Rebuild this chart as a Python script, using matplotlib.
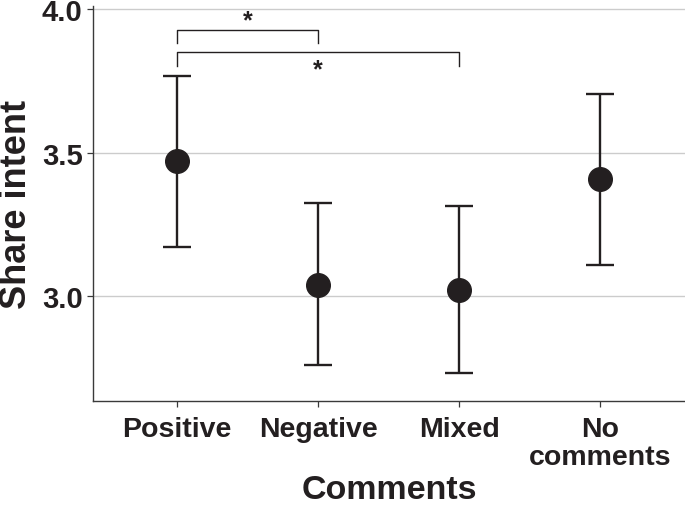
import matplotlib
matplotlib.use("Agg")
import matplotlib.pyplot as plt

plt.rcParams["font.family"] = ["Liberation Sans", "DejaVu Sans"]
plt.rcParams["font.weight"] = "bold"

# values
categories = ["Positive", "Negative", "Mixed", "No\ncomments"]
means = [3.470, 3.040, 3.023, 3.407]
upper = [3.769, 3.325, 3.316, 3.705]
lower = [3.171, 2.758, 2.730, 3.110]
y_ticks = [3.0, 3.5, 4.0]
y_tick_labels = ["3.0", "3.5", "4.0"]

# significance brackets: (from category, to category, bar y, leg bottom y, star y)
brackets = [(0, 1, 3.929, 3.882, 3.962), (0, 2, 3.851, 3.801, 3.790)]

ink = "#231f20"

fig = plt.figure(figsize=(6.85, 5.06), dpi=100)
ax = fig.add_axes([0.1358, 0.2055, 0.8642, 0.7807])

xs = list(range(1, len(categories) + 1))
err_lo = [m - lo for m, lo in zip(means, lower)]
err_hi = [hi - m for m, hi in zip(means, upper)]

ax.errorbar(xs, means, yerr=[err_lo, err_hi], fmt="o", color=ink,
            markersize=17, elinewidth=1.7, capsize=10, capthick=1.7, zorder=3)

for i, j, y_bar, y_leg, y_star in brackets:
    x0, x1 = xs[i], xs[j]
    ax.plot([x0, x0, x1, x1], [y_leg, y_bar, y_bar, y_leg], color=ink,
            lw=1.0, zorder=2, clip_on=False)
    ax.text((x0 + x1) / 2, y_star, "*", ha="center", va="center",
            fontsize=18, color=ink, fontweight="bold")

ax.set_xlim(0.404, 4.6)
ax.set_ylim(2.634, 4.012)
ax.set_xticks(xs)
ax.set_xticklabels(categories, fontsize=20.5, color=ink, fontweight="bold",
                   linespacing=1.1)
ax.set_yticks(y_ticks)
ax.set_yticklabels(y_tick_labels, fontsize=21, color=ink, fontweight="bold")

ax.yaxis.grid(True, color="#cccccc", lw=1.0)
ax.set_axisbelow(True)

for side in ["top", "right"]:
    ax.spines[side].set_visible(False)
for side in ["left", "bottom"]:
    ax.spines[side].set_color("#3a3a3a")
    ax.spines[side].set_linewidth(1.0)

ax.tick_params(axis="both", direction="out", length=4.5, width=0.9,
               color="#3a3a3a")
ax.tick_params(axis="x", pad=6)
ax.tick_params(axis="y", pad=3)

ax.set_xlabel("Comments", fontsize=24.5, color=ink, fontweight="bold")
# put the axis title just above the bottom edge, as in the reference
ax.xaxis.set_label_coords(0.5, -0.185)
ax.xaxis.label.set_va("top")
ax.set_ylabel("Share intent", fontsize=26, color=ink, fontweight="bold",
              labelpad=6)

fig.savefig("out.png", dpi=100)
